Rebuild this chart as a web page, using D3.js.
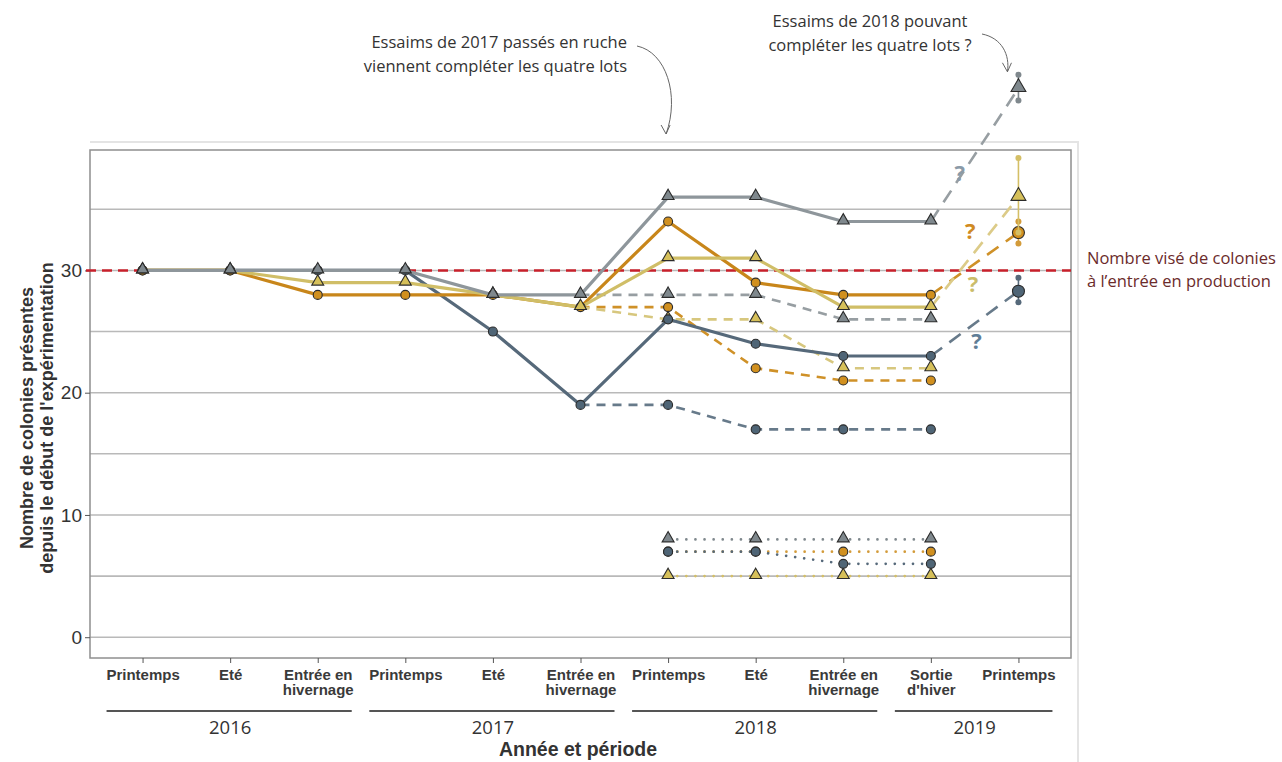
<!DOCTYPE html>
<html>
<head>
<meta charset="utf-8">
<script src="https://cdn.jsdelivr.net/npm/d3@7"></script>
<style>
  body { margin: 0; background: #fff; }
  svg { display: block; }
</style>
</head>
<body>
<script>

var W = 1282;
var H = 762;

// x categories (index 0..10)
var periods = ["Printemps", "Eté", "Entrée en\nhivernage", "Printemps", "Eté", "Entrée en\nhivernage",
    "Printemps", "Eté", "Entrée en\nhivernage", "Sortie\nd'hiver", "Printemps"];
var yearLabels = ["2016", "2017", "2018", "2019"];
var yearFirst = [0, 3, 6, 9];
var yearLast = [2, 5, 8, 10];
var yTicks = [0, 10, 20, 30];
var gridValues = [0, 5, 10, 15, 20, 25, 30, 35];
var target = 30;

// total colonies per lot (solid), from Printemps 2016
var lotGray = [30, 30, 30, 30, 28, 28, 36, 36, 34, 34];
var lotOrange = [30, 30, 28, 28, 28, 27, 34, 29, 28, 28];
var lotYellow = [30, 30, 29, 29, 28, 27, 31, 31, 27, 27];
var lotSlate = [30, 30, 30, 30, 25, 19, 26, 24, 23, 23];

// original colonies only (dashed), from Entrée en hivernage 2017
var origGray = [28, 28, 28, 26, 26];
var origOrange = [27, 27, 22, 21, 21];
var origYellow = [27, 26, 26, 22, 22];
var origSlate = [19, 19, 17, 17, 17];

// 2017 swarms (dotted), from Printemps 2018
var swarmGray = [8, 8, 8, 8];
var swarmOrange = [7, 7, 7, 7];
var swarmSlate = [7, 7, 6, 6];
var swarmYellow = [5, 5, 5, 5];

// Printemps 2019 forecast: gray, orange, yellow, slate
var forecastMid = [44.9, 33.1, 36.0, 28.3];
var forecastLow = [43.9, 32.2, 33.1, 27.4];
var forecastHigh = [46.0, 34.0, 39.2, 29.4];

var svg = d3.select("body")
    .append("svg")
    .attr("width", W)
    .attr("height", H);

var x = d3.scaleLinear()
    .domain([-0.6, 10.6])
    .range([90, 1071]);

var y = d3.scaleLinear()
    .domain([-1.7, 39.85])
    .range([658, 150]);

var lots = [
    { key: "gray", shape: "tri", line: "#8e969b", fill: "#7f888d", dash: "#979ea2", dot: "#7f888d", q: "#8a9aa8",
      total: lotGray, orig: origGray, swarm: swarmGray },
    { key: "orange", shape: "circ", line: "#c8861a", fill: "#d1901f", dash: "#cf9128", dot: "#d39b3a", q: "#d08a22",
      total: lotOrange, orig: origOrange, swarm: swarmOrange },
    { key: "yellow", shape: "tri", line: "#d0be67", fill: "#d6c05a", dash: "#d7c77e", dot: "#d4bf66", q: "#cbbd6a",
      total: lotYellow, orig: origYellow, swarm: swarmYellow },
    { key: "slate", shape: "circ", line: "#56697a", fill: "#4f6576", dash: "#677a8a", dot: "#56697a", q: "#5f7d96",
      total: lotSlate, orig: origSlate, swarm: swarmSlate }
];
// drawing orders (last one on top)
var totalOrder = [lots[3], lots[1], lots[2], lots[0]];
var swarmOrder = [lots[1], lots[2], lots[0], lots[3]];

function pts(values, start) {
    return values.map(function (v, i) { return { i: start + i, v: v }; });
}

var line = d3.line()
    .x(function (d) { return x(d.i); })
    .y(function (d) { return y(d.v); });

// faint frame of the pasted figure
svg.append("path")
    .attr("d", "M90," + (y(39.85) - 8) + "H1078V" + H)
    .attr("fill", "none")
    .attr("stroke", "#e4e4e4")
    .attr("stroke-width", 2);

// grid
svg.append("g")
    .selectAll("line")
    .data(gridValues)
    .enter()
    .append("line")
    .attr("x1", x.range()[0])
    .attr("x2", x.range()[1])
    .attr("y1", function (d) { return y(d); })
    .attr("y2", function (d) { return y(d); })
    .attr("stroke", "#b9b9b9")
    .attr("stroke-width", 1.6);

// panel border
svg.append("rect")
    .attr("x", x.range()[0])
    .attr("y", y.range()[1])
    .attr("width", x.range()[1] - x.range()[0])
    .attr("height", y.range()[0] - y.range()[1])
    .attr("fill", "none")
    .attr("stroke", "#8f8f8f")
    .attr("stroke-width", 1.5);

// y axis
var yAxis = d3.axisLeft(y).tickValues(yTicks).tickSize(5).tickPadding(3);
var gy = svg.append("g")
    .attr("transform", "translate(" + x.range()[0] + ",0)")
    .call(yAxis);
gy.select(".domain").remove();
gy.selectAll("line").attr("stroke", "#555");
gy.selectAll("text")
    .attr("font-family", "Liberation Sans, Arial, sans-serif")
    .attr("font-size", 19)
    .attr("fill", "#333");

// x axis
var xAxis = d3.axisBottom(x).tickValues(d3.range(periods.length)).tickSize(5).tickPadding(6);
var gx = svg.append("g")
    .attr("transform", "translate(0," + y.range()[0] + ")")
    .call(xAxis);
gx.select(".domain").remove();
gx.selectAll("line").attr("stroke", "#555");
gx.selectAll("text").each(function (d) {
    var t = d3.select(this).text("");
    periods[d].split("\n").forEach(function (s, k) {
        t.append("tspan").attr("x", 0).attr("dy", k === 0 ? "0.71em" : "1.05em").text(s);
    });
})
    .attr("font-family", "Liberation Sans Narrow, Arial Narrow, sans-serif")
    .attr("font-weight", "bold")
    .attr("font-size", 15)
    .attr("fill", "#3a3a3a");

// year brackets
var yearG = svg.append("g");
yearLabels.forEach(function (lab, k) {
    var x0 = x(yearFirst[k]) - 36;
    var x1 = x(yearLast[k]) + 34;
    yearG.append("line")
        .attr("x1", x0).attr("x2", x1)
        .attr("y1", 711).attr("y2", 711)
        .attr("stroke", "#555")
        .attr("stroke-width", 2);
    yearG.append("text")
        .attr("x", (x(yearFirst[k]) + x(yearLast[k])) / 2)
        .attr("y", 734)
        .attr("text-anchor", "middle")
        .attr("font-family", "Open Sans, sans-serif")
        .attr("font-size", 18.5)
        .attr("fill", "#333")
        .text(lab);
});

// axis titles
svg.append("text")
    .attr("x", 578)
    .attr("y", 756)
    .attr("text-anchor", "middle")
    .attr("font-family", "Liberation Sans, Arial, sans-serif")
    .attr("font-weight", "bold")
    .attr("font-size", 19.5)
    .attr("fill", "#333")
    .text("Année et période");

var ytitle = svg.append("text")
    .attr("transform", "translate(33,418) rotate(-90)")
    .attr("text-anchor", "middle")
    .attr("font-family", "Liberation Sans, Arial, sans-serif")
    .attr("font-weight", "bold")
    .attr("font-size", 18)
    .attr("fill", "#333");
ytitle.append("tspan").attr("x", 0).attr("dy", 0).text("Nombre de colonies présentes");
ytitle.append("tspan").attr("x", 0).attr("dy", 20).text("depuis le début de l'expérimentation");

// target line
svg.append("line")
    .attr("x1", x.range()[0] - 4)
    .attr("x2", x.range()[1])
    .attr("y1", y(target))
    .attr("y2", y(target))
    .attr("stroke", "#c8202b")
    .attr("stroke-width", 2.5)
    .attr("stroke-dasharray", "10,6");

svg.append("text")
    .attr("font-family", "Open Sans, sans-serif")
    .attr("font-size", 16.5)
    .attr("fill", "#6b2b2b")
    .selectAll("tspan")
    .data(["Nombre visé de colonies", "à l’entrée en production"])
    .enter()
    .append("tspan")
    .attr("x", 1087)
    .attr("y", function (d, k) { return y(target) - 6 + k * 23; })
    .text(function (d) { return d; });

function marker(g, data, lot, big) {
    if (lot.shape === "tri") {
        g.selectAll(null)
            .data(data)
            .enter()
            .append("path")
            .attr("d", d3.symbol(d3.symbolTriangle, big ? 95 : 62)())
            .attr("transform", function (d) { return "translate(" + x(d.i) + "," + (y(d.v) - 1) + ")"; })
            .attr("fill", lot.fill)
            .attr("stroke", "#2b2b2b")
            .attr("stroke-width", 1.1);
    } else {
        g.selectAll(null)
            .data(data)
            .enter()
            .append("circle")
            .attr("cx", function (d) { return x(d.i); })
            .attr("cy", function (d) { return y(d.v); })
            .attr("r", big ? 6 : 4.5)
            .attr("fill", lot.fill)
            .attr("stroke", "#2b2b2b")
            .attr("stroke-width", 1.1);
    }
}

var plot = svg.append("g");

// dotted: 2017 swarms
swarmOrder.forEach(function (lot) {
    plot.append("path")
        .datum(pts(lot.swarm, 6))
        .attr("d", line)
        .attr("fill", "none")
        .attr("stroke", lot.dot)
        .attr("stroke-width", 2.6)
        .attr("stroke-linecap", "round")
        .attr("stroke-dasharray", "0.1,9");
});
swarmOrder.forEach(function (lot) { marker(plot.append("g"), pts(lot.swarm, 6), lot, false); });

// dashed: original colonies
totalOrder.forEach(function (lot) {
    plot.append("path")
        .datum(pts(lot.orig, 5))
        .attr("d", line)
        .attr("fill", "none")
        .attr("stroke", lot.dash)
        .attr("stroke-width", 2.6)
        .attr("stroke-dasharray", "9,7");
});
totalOrder.forEach(function (lot) { marker(plot.append("g"), pts(lot.orig, 5).slice(1), lot, false); });

// forecast dashed to Printemps 2019
lots.forEach(function (lot, k) {
    var last = lot.total.length - 1;
    plot.append("path")
        .datum([{ i: last, v: lot.total[last] }, { i: 10, v: forecastMid[k] }])
        .attr("d", line)
        .attr("fill", "none")
        .attr("stroke", k === 2 ? "#dccb88" : lot.dash)
        .attr("stroke-width", 2.6)
        .attr("stroke-dasharray", "14,9");
});

// solid: totals
totalOrder.forEach(function (lot) {
    plot.append("path")
        .datum(pts(lot.total, 0))
        .attr("d", line)
        .attr("fill", "none")
        .attr("stroke", lot.line)
        .attr("stroke-width", 3.2)
        .attr("stroke-linejoin", "round");
});
totalOrder.forEach(function (lot) { marker(plot.append("g"), pts(lot.total, 0), lot, false); });

// forecast points with ranges
lots.forEach(function (lot, k) {
    var g = plot.append("g");
    var xi = x(10);
    g.append("line")
        .attr("x1", xi).attr("x2", xi)
        .attr("y1", y(forecastLow[k])).attr("y2", y(forecastHigh[k]))
        .attr("stroke", lot.dot)
        .attr("stroke-width", 1.6);
    g.selectAll("circle.end")
        .data([forecastLow[k], forecastHigh[k]])
        .enter()
        .append("circle")
        .attr("cx", xi)
        .attr("cy", function (d) { return y(d); })
        .attr("r", 3)
        .attr("fill", lot.dot);
    marker(g, [{ i: 10, v: forecastMid[k] }], lot, true);
});

// question marks
var qPos = [[9.33, 37.3], [9.45, 32.6], [9.48, 28.2], [9.52, 23.6]];
lots.forEach(function (lot, k) {
    svg.append("text")
        .attr("x", x(qPos[k][0]))
        .attr("y", y(qPos[k][1]))
        .attr("text-anchor", "middle")
        .attr("font-family", "Open Sans, sans-serif")
        .attr("font-weight", "bold")
        .attr("font-size", 22)
        .attr("fill", lot.q)
        .text("?");
});

// annotations
var note = svg.append("g")
    .attr("font-family", "Open Sans, sans-serif")
    .attr("font-size", 16.5)
    .attr("fill", "#333");
note.append("text").attr("x", 627).attr("y", 48).attr("text-anchor", "end").text("Essaims de 2017 passés en ruche");
note.append("text").attr("x", 627).attr("y", 72).attr("text-anchor", "end").text("viennent compléter les quatre lots");
note.append("text").attr("x", 870).attr("y", 27).attr("text-anchor", "middle").text("Essaims de 2018 pouvant");
note.append("text").attr("x", 870).attr("y", 51).attr("text-anchor", "middle").text("compléter les quatre lots ?");

function arrow(x0, y0, c1x, c1y, c2x, c2y, x1, y1) {
    svg.append("path")
        .attr("d", "M" + x0 + "," + y0 + "C" + c1x + "," + c1y + " " + c2x + "," + c2y + " " + x1 + "," + y1)
        .attr("fill", "none")
        .attr("stroke", "#666")
        .attr("stroke-width", 1);
    svg.append("path")
        .attr("d", "M" + (x1 - 5) + "," + (y1 - 9) + "L" + x1 + "," + y1 + "L" + (x1 + 4) + "," + (y1 - 9))
        .attr("fill", "none")
        .attr("stroke", "#666")
        .attr("stroke-width", 1);
}
arrow(637, 46, 666, 52, 680, 95, x(6) - 2, y.range()[1] - 16);
arrow(982, 34, 1002, 38, 1010, 55, x(10) - 11, y(forecastHigh[0]) - 3);

</script>
</body>
</html>
